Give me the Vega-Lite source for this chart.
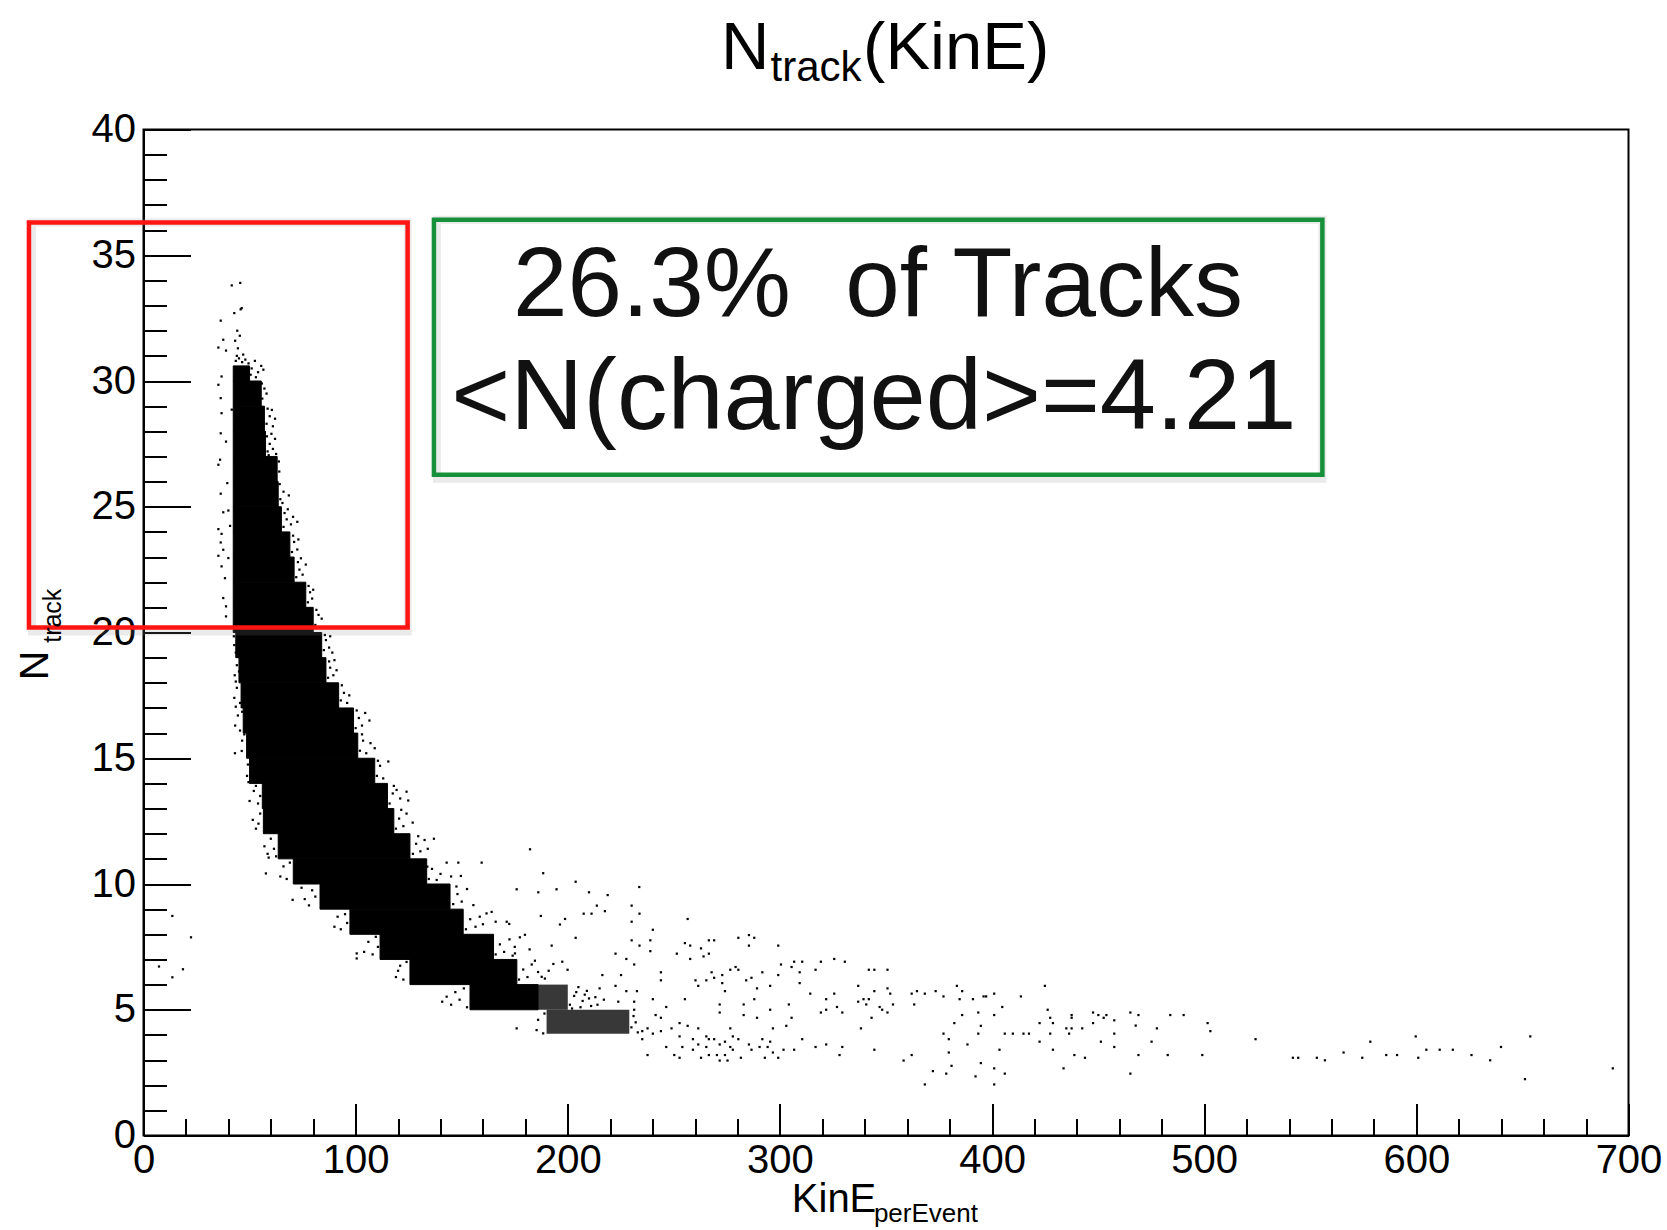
{
"$schema": "https://vega.github.io/schema/vega-lite/v6.json",
"width": 1485, "height": 1006,
"autosize": {"type": "none"},
"padding": {"left": 143.5, "top": 129.5, "right": 38.5, "bottom": 94.5},
"background": "white",
"config": {"view": {"stroke": "black", "strokeWidth": 2}, "font": "Liberation Sans"},
"resolve": {"axis": {"x": "independent", "y": "independent"}},
"datasets": {
"bins": [
{"n0":30,"n1":30.6,"k0":42.3,"k1":50},
{"n0":29,"n1":30,"k0":42.3,"k1":55.5},
{"n0":28,"n1":29,"k0":42.3,"k1":57},
{"n0":27,"n1":28,"k0":42.3,"k1":57.5},
{"n0":26,"n1":27,"k0":42.3,"k1":63},
{"n0":25,"n1":26,"k0":42.3,"k1":63.5},
{"n0":24,"n1":25,"k0":42.3,"k1":65},
{"n0":23,"n1":24,"k0":42.3,"k1":69},
{"n0":22,"n1":23,"k0":42.3,"k1":71},
{"n0":21,"n1":22,"k0":42.3,"k1":76.5},
{"n0":20,"n1":21,"k0":42.3,"k1":80},
{"n0":19,"n1":20,"k0":43.5,"k1":84},
{"n0":18,"n1":19,"k0":45,"k1":86},
{"n0":17,"n1":18,"k0":46,"k1":92},
{"n0":16,"n1":17,"k0":47,"k1":99},
{"n0":15,"n1":16,"k0":48.6,"k1":101},
{"n0":14,"n1":15,"k0":50,"k1":109},
{"n0":13,"n1":14,"k0":56,"k1":115},
{"n0":12,"n1":13,"k0":56.5,"k1":118},
{"n0":11,"n1":12,"k0":63.5,"k1":125.6},
{"n0":10,"n1":11,"k0":70.6,"k1":133.5},
{"n0":9,"n1":10,"k0":83.2,"k1":144.5},
{"n0":8,"n1":9,"k0":97.3,"k1":150.7},
{"n0":7,"n1":8,"k0":111.5,"k1":165},
{"n0":6,"n1":7,"k0":125.6,"k1":176},
{"n0":5,"n1":6,"k0":153.9,"k1":186}
],
"halfbins": [
{"n0":5,"n1":6,"k0":186,"k1":200},
{"n0":4.05,"n1":5,"k0":190,"k1":229}
],
"pts": [
{"k":43.5,"n":30.8},{"k":45,"n":30.9},{"k":46.5,"n":30.75},{"k":48,"n":30.85},{"k":44,"n":31.0},{"k":47,"n":31.05},{"k":49.5,"n":30.7},{"k":51,"n":30.5},{"k":52.5,"n":30.8},{"k":54,"n":30.35},{"k":55.5,"n":30.6},{"k":53,"n":30.15},{"k":50.5,"n":30.25},{"k":56.5,"n":30.45},{"k":44.5,"n":31.3},{"k":43.2,"n":31.6},{"k":45.4,"n":31.8},{"k":44.2,"n":32.0},{"k":42.8,"n":32.7},{"k":46.3,"n":32.9},{"k":45.8,"n":32.85},{"k":41.6,"n":33.8},{"k":45.6,"n":33.9},
{"k":37.6,"n":31.64},{"k":35.3,"n":31.33},{"k":38.9,"n":31.21},{"k":36.4,"n":32.4},{"k":36.8,"n":30.18},{"k":35.3,"n":29.85},{"k":36.4,"n":29.32},{"k":36.8,"n":28.72},{"k":41.6,"n":28.86},{"k":36.4,"n":27.92},{"k":38.9,"n":27.59},{"k":36.1,"n":26.87},{"k":35.3,"n":26.67},{"k":39.5,"n":25.94},{"k":36.4,"n":25.52},{"k":37.6,"n":24.78},{"k":40.0,"n":24.85},{"k":40.8,"n":24.24},{"k":35.3,"n":24.11},{"k":36.8,"n":23.92},{"k":36.4,"n":23.58},{"k":37.6,"n":23.29},{"k":35.3,"n":23.05},{"k":40.0,"n":22.96},{"k":36.8,"n":22.63},{"k":38.4,"n":22.16},{"k":37.6,"n":21.37},{"k":38.9,"n":21.04},{"k":38.9,"n":20.64},
{"k":56,"n":29.3},{"k":57,"n":29.7},{"k":55.8,"n":29.9},{"k":58,"n":29.5},
{"k":58,"n":28.3},{"k":59.5,"n":28.6},{"k":61,"n":28.2},{"k":60.5,"n":28.85},{"k":58.5,"n":28.9},{"k":62,"n":28.5},
{"k":58.5,"n":27.2},{"k":59.5,"n":27.5},{"k":61,"n":27.3},{"k":62,"n":27.7},{"k":58.2,"n":27.8},{"k":60.3,"n":27.9},{"k":62.5,"n":27.1},{"k":59,"n":27.05},
{"k":64,"n":26.4},{"k":63.8,"n":26.8},
{"k":64.5,"n":25.3},{"k":66,"n":25.6},{"k":64.2,"n":25.9},{"k":68.5,"n":25.45},{"k":65.5,"n":25.15},
{"k":66,"n":24.2},{"k":67.5,"n":24.5},{"k":68,"n":24.9},{"k":69.5,"n":24.3},{"k":66.5,"n":24.75},{"k":70.5,"n":24.6},{"k":72.5,"n":24.4},
{"k":70,"n":23.2},{"k":71,"n":23.6},{"k":72.5,"n":23.3},{"k":70.5,"n":23.85},{"k":73,"n":23.7},
{"k":72,"n":22.2},{"k":73.5,"n":22.5},{"k":75,"n":22.3},{"k":72.8,"n":22.8},{"k":76.5,"n":22.7},{"k":74.2,"n":22.95},
{"k":77.5,"n":21.2},{"k":78.5,"n":21.6},{"k":79.5,"n":21.35},{"k":77.8,"n":21.85},{"k":80,"n":21.7},
{"k":81,"n":20.3},{"k":82.5,"n":20.7},{"k":83.5,"n":20.2},{"k":81.5,"n":20.9},{"k":84,"n":20.55},
{"k":85,"n":19.3},{"k":86,"n":19.7},{"k":87.5,"n":19.4},{"k":85.5,"n":19.9},{"k":89,"n":19.2},{"k":88,"n":19.85},{"k":42.8,"n":19.5},{"k":43.5,"n":19.2},{"k":42.6,"n":19.85},
{"k":87,"n":18.2},{"k":88,"n":18.6},{"k":89.5,"n":18.3},{"k":87.5,"n":18.85},{"k":91,"n":18.5},{"k":90,"n":18.9},{"k":43,"n":18.3},{"k":44,"n":18.7},{"k":43.5,"n":18.05},{"k":45,"n":18.45},
{"k":93,"n":17.3},{"k":94.5,"n":17.6},{"k":96,"n":17.2},{"k":93.5,"n":17.9},{"k":97,"n":17.5},{"k":42.8,"n":17.4},{"k":44,"n":17.8},{"k":45.5,"n":17.2},{"k":43.5,"n":17.05},
{"k":100,"n":16.2},{"k":101.5,"n":16.6},{"k":103,"n":16.3},{"k":104.5,"n":16.8},{"k":106.5,"n":16.5},{"k":100.5,"n":16.9},{"k":43.2,"n":16.3},{"k":44.5,"n":16.7},{"k":45.5,"n":16.1},{"k":46.5,"n":16.85},
{"k":102,"n":15.3},{"k":103.5,"n":15.7},{"k":105,"n":15.2},{"k":107,"n":15.6},{"k":109,"n":15.4},{"k":103,"n":15.95},{"k":43.1,"n":15.2},{"k":46.3,"n":15.29},{"k":46.5,"n":15.7},{"k":47.5,"n":15.95},
{"k":110,"n":14.3},{"k":111.5,"n":14.7},{"k":113,"n":14.2},{"k":110.5,"n":14.9},{"k":115.4,"n":14.87},{"k":48.8,"n":14.3},{"k":49.2,"n":14.75},{"k":49.5,"n":14.05},
{"k":116,"n":13.2},{"k":117.5,"n":13.6},{"k":119.3,"n":13.74},{"k":121,"n":13.4},{"k":124,"n":13.67},{"k":118,"n":13.9},{"k":124.8,"n":13.32},{"k":50,"n":13.3},{"k":52,"n":13.7},{"k":54,"n":13.2},{"k":53,"n":13.9},{"k":55,"n":13.5},
{"k":119,"n":12.2},{"k":120.5,"n":12.6},{"k":122.5,"n":12.3},{"k":124,"n":12.8},{"k":126.9,"n":12.44},{"k":121.5,"n":12.95},{"k":51.5,"n":12.55},{"k":53,"n":12.2},{"k":55,"n":12.8},{"k":54.2,"n":12.4},
{"k":127,"n":11.2},{"k":128.5,"n":11.6},{"k":130.5,"n":11.3},{"k":132.5,"n":11.75},{"k":136.9,"n":11.8},{"k":134,"n":11.4},{"k":129.5,"n":11.9},{"k":57,"n":11.5},{"k":58.5,"n":11.2},{"k":60,"n":11.8},{"k":61.5,"n":11.4},{"k":62.5,"n":11.1},{"k":59,"n":11.05},
{"k":134.5,"n":10.2},{"k":136,"n":10.6},{"k":138.2,"n":10.16},{"k":133.8,"n":10.69},{"k":142.9,"n":10.85},{"k":148.4,"n":10.85},{"k":140,"n":10.4},{"k":145,"n":10.3},{"k":149.6,"n":10.32},{"k":64.5,"n":10.3},{"k":66,"n":10.7},{"k":67.5,"n":10.2},{"k":69,"n":10.85},{"k":57.7,"n":10.42},
{"k":146,"n":9.2},{"k":148,"n":9.6},{"k":150,"n":9.3},{"k":152.5,"n":9.8},{"k":155.5,"n":9.16},{"k":147.5,"n":9.9},{"k":70.3,"n":9.37},{"k":76,"n":9.4},{"k":78,"n":9.15},{"k":79.5,"n":9.75},{"k":81,"n":9.5},{"k":74.5,"n":9.85},
{"k":152,"n":8.2},{"k":154,"n":8.6},{"k":156.5,"n":8.3},{"k":158.5,"n":8.7},{"k":161.7,"n":8.83},{"k":164.1,"n":8.89},{"k":160,"n":8.4},{"k":166,"n":8.5},{"k":90,"n":8.3},{"k":91.5,"n":8.7},{"k":93,"n":8.2},{"k":95,"n":8.8},{"k":96,"n":8.45},
{"k":166,"n":7.2},{"k":168,"n":7.6},{"k":170,"n":7.3},{"k":172.5,"n":7.8},{"k":175,"n":7.5},{"k":177.4,"n":7.88},{"k":179.8,"n":7.98},{"k":182,"n":7.4},{"k":174,"n":7.15},{"k":100.5,"n":7.24},{"k":100.5,"n":7.04},{"k":104,"n":7.3},{"k":106,"n":7.7},{"k":108,"n":7.2},{"k":109.5,"n":7.9},{"k":110.5,"n":7.5},
{"k":177,"n":6.2},{"k":179,"n":6.6},{"k":181,"n":6.3},{"k":183,"n":6.8},{"k":184.5,"n":6.95},{"k":187.7,"n":6.31},{"k":189.2,"n":6.24},{"k":193.2,"n":6.82},{"k":186,"n":6.5},{"k":191,"n":6.55},{"k":119,"n":6.3},{"k":121,"n":6.75},{"k":122.5,"n":6.2},{"k":124,"n":6.9},{"k":120,"n":6.55},
{"k":140.8,"n":5.32},{"k":142.9,"n":5.52},{"k":145,"n":5.2},{"k":147,"n":5.7},{"k":149,"n":5.4},{"k":151,"n":5.85},{"k":152.5,"n":5.1},
{"k":201,"n":5.2},{"k":203,"n":5.55},{"k":205,"n":5.9},{"k":207,"n":5.35},{"k":209,"n":5.75},{"k":211,"n":5.15},{"k":213,"n":5.5},{"k":215,"n":5.85},{"k":217,"n":5.4},{"k":202,"n":5.05},{"k":206,"n":5.1},{"k":210,"n":5.45},{"k":214,"n":5.2},{"k":204,"n":5.7},{"k":208,"n":5.6},
{"k":175.9,"n":4.26},{"k":185.3,"n":4.19},{"k":188.4,"n":4.06},{"k":186,"n":4.6},{"k":189,"n":4.85},{"k":230,"n":4.3},{"k":231,"n":4.75},{"k":232,"n":4.5},{"k":233,"n":4.1},
{"k":182.2,"n":11.38},{"k":159.4,"n":10.85},{"k":188.4,"n":10.43},{"k":175.9,"n":9.79},{"k":186.1,"n":9.67},{"k":194.7,"n":9.79},{"k":187.3,"n":8.73},{"k":192.4,"n":7.55},{"k":171.2,"n":8.5},{"k":172.4,"n":8.41},{"k":175.1,"n":7.24},
{"k":13.6,"n":8.73},{"k":22.4,"n":7.88},{"k":7.3,"n":6.72},{"k":13.6,"n":6.29},{"k":18.6,"n":6.61},
{"k":203.7,"n":10.09},{"k":210.0,"n":9.67},{"k":218.8,"n":9.56},{"k":233.7,"n":9.88},{"k":213.7,"n":9.14},{"k":217.5,"n":8.92},{"k":207.5,"n":8.82},{"k":211.2,"n":8.82},{"k":230.1,"n":9.14},{"k":233.8,"n":8.82},{"k":230.1,"n":8.5},{"k":198.7,"n":8.61},{"k":196.3,"n":8.39},{"k":256.5,"n":8.61},{"k":240.1,"n":8.18},{"k":203.7,"n":7.86},{"k":230.1,"n":7.76},{"k":233.8,"n":7.55},{"k":238.9,"n":7.76},{"k":238.9,"n":7.33},{"k":222.5,"n":7.23},{"k":227.6,"n":7.02},{"k":231.3,"n":6.8},{"k":197.4,"n":6.91},{"k":199.9,"n":6.59},{"k":216.3,"n":6.38},{"k":225.1,"n":6.38},{"k":243.9,"n":6.49},{"k":243.9,"n":6.17},{"k":222.5,"n":5.95},{"k":227.6,"n":5.74},{"k":232.6,"n":5.74},{"k":223.8,"n":5.32},{"k":231.3,"n":5.32},{"k":231.3,"n":5.0},{"k":240.1,"n":5.42},{"k":246.4,"n":5.11},{"k":241.4,"n":4.79},{"k":243.9,"n":4.68},{"k":235.1,"n":4.15},{"k":237.6,"n":4.26},{"k":240.1,"n":4.05},{"k":235.1,"n":3.83},{"k":237.6,"n":3.2},{"k":246.4,"n":3.52},{"k":248.9,"n":4.26},{"k":243.9,"n":4.15},{"k":252.7,"n":4.47},{"k":256.5,"n":4.36},{"k":252.7,"n":3.94},{"k":254.0,"n":3.52},{"k":250.2,"n":3.2},{"k":252.7,"n":3.09},
{"k":255.2,"n":7.65},{"k":257.7,"n":7.55},{"k":251.4,"n":7.23},{"k":257.7,"n":7.02},{"k":262.8,"n":7.44},{"k":266.5,"n":7.76},{"k":269.0,"n":7.76},{"k":264.0,"n":7.12},{"k":266.5,"n":7.23},{"k":280.4,"n":7.86},{"k":285.4,"n":7.97},{"k":287.9,"n":7.86},{"k":285.4,"n":7.55},{"k":299.2,"n":7.55},
{"k":260.2,"n":6.17},{"k":261.5,"n":5.95},{"k":265.3,"n":6.17},{"k":267.8,"n":6.49},{"k":269.0,"n":6.27},{"k":272.8,"n":6.38},{"k":272.8,"n":6.06},{"k":274.1,"n":5.74},{"k":276.6,"n":6.59},{"k":279.1,"n":6.7},{"k":280.4,"n":6.59},{"k":284.1,"n":6.17},{"k":286.6,"n":6.27},{"k":291.7,"n":6.49},{"k":299.2,"n":6.38},{"k":300.5,"n":6.8},{"k":295.4,"n":5.95},{"k":289.2,"n":5.85},{"k":287.9,"n":5.42},{"k":282.9,"n":5.21},{"k":271.6,"n":5.21},{"k":271.6,"n":4.89},{"k":282.9,"n":4.79},{"k":289.2,"n":4.68},{"k":295.4,"n":5.0},{"k":255.2,"n":5.42},
{"k":261.5,"n":4.26},{"k":259.0,"n":3.83},{"k":261.5,"n":3.62},{"k":265.3,"n":3.94},{"k":266.5,"n":3.83},{"k":269.0,"n":3.83},{"k":271.6,"n":3.62},{"k":274.1,"n":3.73},{"k":277.8,"n":3.94},{"k":276.6,"n":4.26},{"k":280.4,"n":3.83},{"k":276.6,"n":3.52},{"k":277.8,"n":3.41},{"k":265.3,"n":3.52},{"k":259.0,"n":3.41},{"k":262.8,"n":3.09},{"k":266.5,"n":3.2},{"k":270.3,"n":3.2},{"k":274.1,"n":3.2},{"k":271.6,"n":2.98},{"k":275.3,"n":2.98},{"k":281.6,"n":3.09},{"k":285.4,"n":3.62},{"k":286.6,"n":3.41},{"k":290.4,"n":3.52},{"k":291.7,"n":3.83},{"k":294.2,"n":3.52},{"k":295.4,"n":3.73},{"k":292.9,"n":3.09},{"k":296.7,"n":3.3},{"k":299.2,"n":3.09},{"k":301.7,"n":3.41},{"k":306.7,"n":3.41},{"k":310.5,"n":3.83},{"k":296.7,"n":4.26},{"k":303.0,"n":4.36},{"k":305.5,"n":4.68},{"k":304.2,"n":5.21},{"k":309.3,"n":6.06},{"k":309.3,"n":6.49},{"k":305.5,"n":6.7},{"k":306.7,"n":6.91},{"k":310.5,"n":6.91},{"k":314.3,"n":5.64},{"k":316.8,"n":6.59},{"k":319.3,"n":6.91},{"k":316.8,"n":3.52},{"k":319.3,"n":4.89},{"k":321.8,"n":5.0},{"k":321.8,"n":5.42},{"k":321.8,"n":3.62},{"k":325.6,"n":7.02},{"k":325.6,"n":5.64},{"k":326.9,"n":5.11},{"k":329.4,"n":4.89},{"k":329.4,"n":3.52},{"k":328.1,"n":3.2},{"k":330.6,"n":6.91},{"k":336.9,"n":5.95},{"k":336.9,"n":5.32},{"k":338.2,"n":4.26},{"k":339.4,"n":5.42},{"k":340.7,"n":5.21},{"k":341.9,"n":6.59},{"k":344.5,"n":6.59},{"k":344.5,"n":5.74},{"k":341.9,"n":5.42},{"k":343.2,"n":4.68},{"k":344.5,"n":3.41},{"k":347.0,"n":5.11},{"k":348.2,"n":5.0},{"k":350.7,"n":6.59},{"k":350.7,"n":5.85},{"k":352.0,"n":5.64},{"k":353.3,"n":5.21},{"k":350.7,"n":4.89},{"k":358.3,"n":2.98},{"k":362.1,"n":3.2},{"k":362.1,"n":5.64},{"k":364.6,"n":5.74},{"k":363.3,"n":5.21},{"k":368.3,"n":5.64},{"k":373.4,"n":5.74},{"k":377.1,"n":5.53},{"k":368.3,"n":2.03},{"k":372.1,"n":2.56},{"k":377.1,"n":4.05},{"k":379.6,"n":3.83},{"k":379.6,"n":3.3},{"k":378.4,"n":2.46},{"k":380.9,"n":2.77},{"k":382.2,"n":4.47},{"k":383.4,"n":5.95},{"k":385.9,"n":5.74},{"k":384.7,"n":5.42},{"k":385.9,"n":4.79},{"k":388.4,"n":3.62},{"k":391.0,"n":5.42},{"k":392.2,"n":2.35},{"k":393.5,"n":4.89},{"k":393.5,"n":4.05},{"k":394.7,"n":4.36},{"k":394.7,"n":2.88},{"k":396.0,"n":5.53},{"k":397.2,"n":5.53},{"k":401.0,"n":5.64},{"k":401.0,"n":4.79},{"k":401.0,"n":2.67},{"k":401.0,"n":2.03},{"k":403.5,"n":3.41},{"k":404.8,"n":5.11},{"k":406.0,"n":4.05},{"k":406.0,"n":2.46},{"k":409.8,"n":4.05},{"k":413.6,"n":5.53},{"k":414.8,"n":4.05},{"k":417.4,"n":4.05},{"k":422.4,"n":4.47},{"k":422.4,"n":3.73},{"k":424.9,"n":5.95},{"k":426.2,"n":5.0},{"k":427.4,"n":4.68},{"k":427.4,"n":4.05},{"k":428.7,"n":4.47},{"k":428.7,"n":3.41},
{"k":433.7,"n":2.67},{"k":435.0,"n":4.26},{"k":436.3,"n":4.05},{"k":437.5,"n":4.79},{"k":437.5,"n":4.68},{"k":437.5,"n":4.26},{"k":438.8,"n":3.2},{"k":442.5,"n":4.26},{"k":443.8,"n":3.09},{"k":447.6,"n":4.89},{"k":447.6,"n":4.47},{"k":450.1,"n":4.79},{"k":451.3,"n":3.73},{"k":452.6,"n":4.68},{"k":453.9,"n":4.79},{"k":457.6,"n":4.58},{"k":457.6,"n":4.05},{"k":457.6,"n":3.52},{"k":465.2,"n":4.89},{"k":465.2,"n":2.46},{"k":467.7,"n":4.37},{"k":469.0,"n":4.79},{"k":469.0,"n":3.2},{"k":475.2,"n":3.73},{"k":477.7,"n":4.26},{"k":482.8,"n":3.2},{"k":484.0,"n":4.79},{"k":490.3,"n":4.79},{"k":499.1,"n":3.2},{"k":501.6,"n":4.47},{"k":502.9,"n":4.15},{"k":524.2,"n":3.83},{"k":541.8,"n":3.09},{"k":544.3,"n":3.09},{"k":553.1,"n":3.09},{"k":556.9,"n":2.99},{"k":565.7,"n":3.3},{"k":574.5,"n":3.09},{"k":578.3,"n":3.73},{"k":585.8,"n":3.2},{"k":590.9,"n":3.2},{"k":599.7,"n":3.94},{"k":600.9,"n":3.09},{"k":604.7,"n":3.41},{"k":611.0,"n":3.41},{"k":617.2,"n":3.41},{"k":626.0,"n":3.2},{"k":634.8,"n":2.99},{"k":639.9,"n":3.52},{"k":651.2,"n":2.24},{"k":653.7,"n":3.94},{"k":692.6,"n":2.67}
],
"boxes": [
{"box":"red","k0":-54,"k1":124.5,"n0":20.2,"n1":36.3},
{"box":"green","k0":136.9,"k1":555.7,"n0":26.27,"n1":36.41}
]
},
"layer": [
{"data":{"name":"bins"},"mark":{"type":"rect","color":"black","stroke":"black","strokeWidth":1},
 "encoding":{
  "x":{"field":"k0","type":"quantitative","scale":{"domain":[0,700],"nice":false,"zero":false},
   "axis":{"title":null,"orient":"bottom","values":[0,100,200,300,400,500,600,700],
    "grid":false,"ticks":true,"tickSize":-32,"domainColor":"black","domainWidth":2,"tickColor":"black","tickWidth":2,
    "labelColor":"black","labelFont":"Liberation Sans","labelFontSize":40,"labelPadding":37,"labelFlush":false,"labelOverlap":false,"labelBound":false}},
  "x2":{"field":"k1"},
  "y":{"field":"n0","type":"quantitative","scale":{"domain":[0,40],"nice":false,"zero":false},
   "axis":{"title":null,"orient":"left","values":[0,5,10,15,20,25,30,35,40],
    "grid":false,"ticks":true,"tickSize":-47,"domainColor":"black","domainWidth":2,"tickColor":"black","tickWidth":2,
    "labelColor":"black","labelFont":"Liberation Sans","labelFontSize":40,"labelPadding":55,"labelFlush":false,"labelOverlap":false,"labelBound":false}},
  "y2":{"field":"n1"}}},
{"data":{"name":"halfbins"},"mark":{"type":"rect","color":"black","opacity":0.78},
 "encoding":{
  "x":{"field":"k0","type":"quantitative","scale":{"domain":[0,700],"nice":false,"zero":false},
   "axis":{"title":null,"orient":"bottom","values":[0,20,40,60,80,100,120,140,160,180,200,220,240,260,280,300,320,340,360,380,400,420,440,460,480,500,520,540,560,580,600,620,640,660,680,700],
    "grid":false,"ticks":true,"tickSize":-17,"domain":false,"labels":false,"tickColor":"black","tickWidth":2}},
  "x2":{"field":"k1"},
  "y":{"field":"n0","type":"quantitative","scale":{"domain":[0,40],"nice":false,"zero":false},
   "axis":{"title":null,"orient":"left","values":[0,1,2,3,4,5,6,7,8,9,10,11,12,13,14,15,16,17,18,19,20,21,22,23,24,25,26,27,28,29,30,31,32,33,34,35,36,37,38,39,40],
    "grid":false,"ticks":true,"tickSize":-23,"domain":false,"labels":false,"tickColor":"black","tickWidth":2}},
  "y2":{"field":"n1"}}},
{"data":{"name":"pts"},"mark":{"type":"square","size":5,"color":"black","opacity":1},
 "encoding":{
  "x":{"field":"k","type":"quantitative","scale":{"domain":[0,700],"nice":false,"zero":false},"axis":null},
  "y":{"field":"n","type":"quantitative","scale":{"domain":[0,40],"nice":false,"zero":false},"axis":null}}},
{"data":{"name":"boxes"},"mark":{"type":"rect","filled":false,"fill":null,"strokeWidth":8,"stroke":"#888888","opacity":0.18,"xOffset":3,"yOffset":4},
 "encoding":{
  "x":{"field":"k0","type":"quantitative","scale":{"domain":[0,700],"nice":false,"zero":false},"axis":null},
  "x2":{"field":"k1"},
  "y":{"field":"n0","type":"quantitative","scale":{"domain":[0,40],"nice":false,"zero":false},"axis":null},
  "y2":{"field":"n1"}}},
{"data":{"name":"boxes"},"mark":{"type":"rect","filled":false,"fill":null,"strokeWidth":4.5},
 "encoding":{
  "x":{"field":"k0","type":"quantitative","scale":{"domain":[0,700],"nice":false,"zero":false},"axis":null},
  "x2":{"field":"k1"},
  "y":{"field":"n0","type":"quantitative","scale":{"domain":[0,40],"nice":false,"zero":false},"axis":null},
  "y2":{"field":"n1"},
  "stroke":{"field":"box","type":"nominal","scale":{"domain":["red","green"],"range":["#ff1414","#17903b"]},"legend":null}}},
{"data":{"values":[{}]},"mark":{"type":"text","align":"center","baseline":"alphabetic","font":"Liberation Sans","fontSize":98,"color":"#111111"},
 "encoding":{"x":{"datum":346.2,"type":"quantitative","axis":null},"y":{"datum":32.6,"type":"quantitative","axis":null},"text":{"value":"26.3%\u00a0 of Tracks"}}},
{"data":{"values":[{}]},"mark":{"type":"text","align":"center","baseline":"alphabetic","font":"Liberation Sans","fontSize":101,"color":"#111111"},
 "encoding":{"x":{"datum":344.3,"type":"quantitative","axis":null},"y":{"datum":28.1,"type":"quantitative","axis":null},"text":{"value":"<N(charged>=4.21"}}},
{"data":{"values":[{}]},"mark":{"type":"text","align":"left","baseline":"alphabetic","font":"Liberation Sans","fontSize":67,"color":"black"},
 "encoding":{"x":{"datum":272.2,"type":"quantitative","axis":null},"y":{"datum":42.41,"type":"quantitative","axis":null},"text":{"value":"N"}}},
{"data":{"values":[{}]},"mark":{"type":"text","align":"left","baseline":"alphabetic","font":"Liberation Sans","fontSize":42,"color":"black"},
 "encoding":{"x":{"datum":295.6,"type":"quantitative","axis":null},"y":{"datum":41.94,"type":"quantitative","axis":null},"text":{"value":"track"}}},
{"data":{"values":[{}]},"mark":{"type":"text","align":"left","baseline":"alphabetic","font":"Liberation Sans","fontSize":67,"color":"black"},
 "encoding":{"x":{"datum":339.2,"type":"quantitative","axis":null},"y":{"datum":42.41,"type":"quantitative","axis":null},"text":{"value":"(KinE)"}}},
{"data":{"values":[{}]},"mark":{"type":"text","align":"left","baseline":"alphabetic","font":"Liberation Sans","fontSize":40,"color":"black"},
 "encoding":{"x":{"datum":305.6,"type":"quantitative","axis":null},"y":{"datum":-3.05,"type":"quantitative","axis":null},"text":{"value":"KinE"}}},
{"data":{"values":[{}]},"mark":{"type":"text","align":"left","baseline":"alphabetic","font":"Liberation Sans","fontSize":26,"color":"black"},
 "encoding":{"x":{"datum":344.3,"type":"quantitative","axis":null},"y":{"datum":-3.44,"type":"quantitative","axis":null},"text":{"value":"perEvent"}}},
{"data":{"values":[{}]},"mark":{"type":"text","align":"left","baseline":"alphabetic","font":"Liberation Sans","fontSize":41,"color":"black","angle":270},
 "encoding":{"x":{"datum":-45.1,"type":"quantitative","axis":null},"y":{"datum":18.1,"type":"quantitative","axis":null},"text":{"value":"N"}}},
{"data":{"values":[{}]},"mark":{"type":"text","align":"left","baseline":"alphabetic","font":"Liberation Sans","fontSize":25,"color":"black","angle":270},
 "encoding":{"x":{"datum":-39.1,"type":"quantitative","axis":null},"y":{"datum":19.59,"type":"quantitative","axis":null},"text":{"value":"track"}}}
]
}
